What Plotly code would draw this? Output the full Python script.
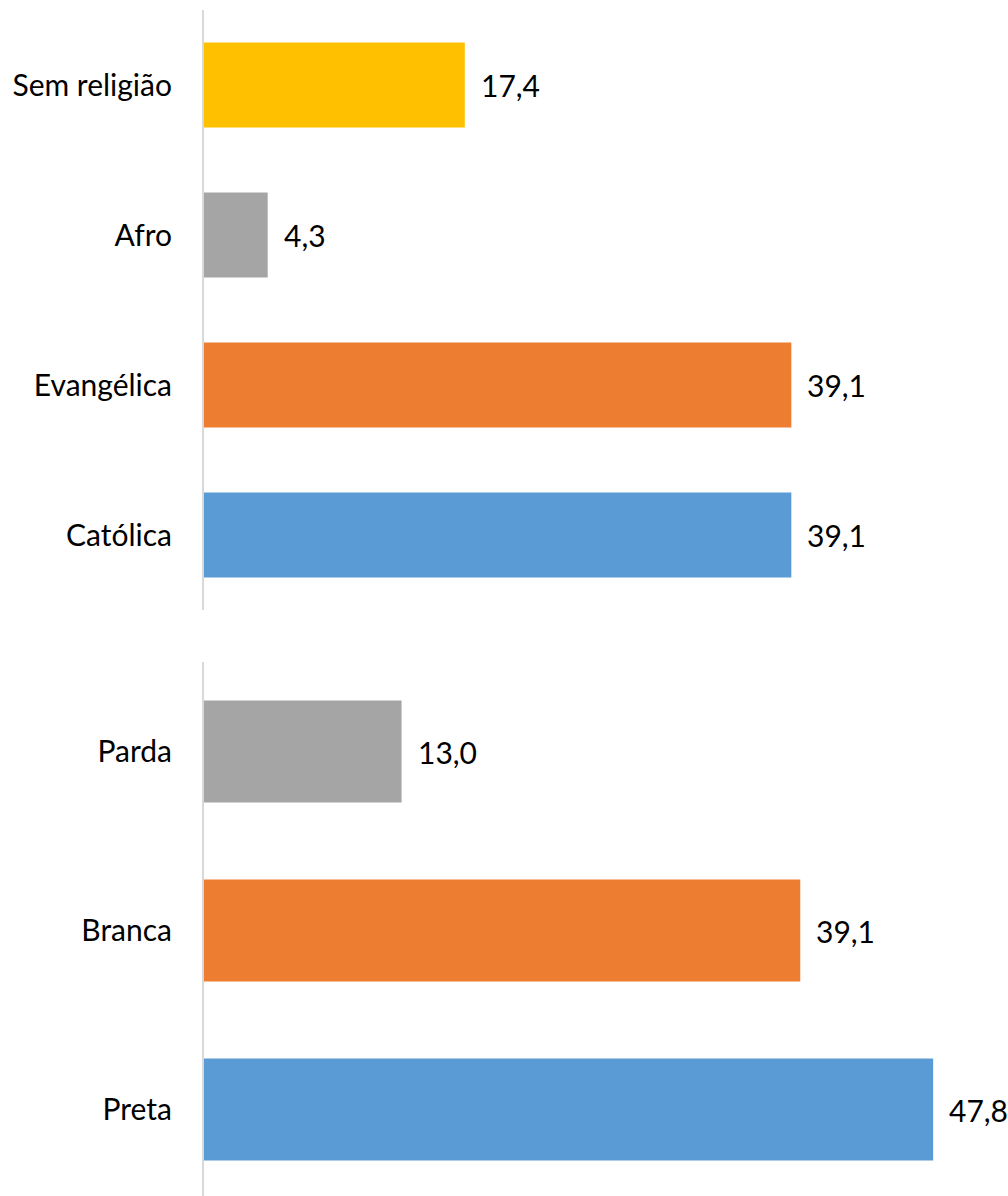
import plotly.graph_objects as go

W, H = 1008, 1196

# Top chart: religion
rel_categories = ["Católica", "Evangélica", "Afro", "Sem religião"]
rel_values = [39.1, 39.1, 4.3, 17.4]
rel_labels = ["39,1", "39,1", "4,3", "17,4"]
rel_colors = ["#5B9BD5", "#ED7D31", "#A5A5A5", "#FFC000"]

# Bottom chart: race
race_categories = ["Preta", "Branca", "Parda"]
race_values = [47.8, 39.1, 13.0]
race_labels = ["47,8", "39,1", "13,0"]
race_colors = ["#5B9BD5", "#ED7D31", "#A5A5A5"]

FONT = "Lato"
FS = 30

fig = go.Figure()
fig.add_trace(go.Bar(
    x=rel_values, y=list(range(len(rel_categories))), orientation="h",
    marker=dict(color=rel_colors, line=dict(width=0)), width=0.567,
    xaxis="x", yaxis="y", hoverinfo="skip", showlegend=False))
fig.add_trace(go.Bar(
    x=race_values, y=list(range(len(race_categories))), orientation="h",
    marker=dict(color=race_colors, line=dict(width=0)), width=0.57,
    xaxis="x2", yaxis="y2", hoverinfo="skip", showlegend=False))

ann = []
for i, (v, t) in enumerate(zip(rel_values, rel_labels)):
    ann.append(dict(x=v, y=i, xref="x", yref="y", text=t, showarrow=False,
                    xanchor="left", xshift=14, font=dict(family=FONT, size=FS, color="#000")))
for i, (v, t) in enumerate(zip(race_values, race_labels)):
    ann.append(dict(x=v, y=i, xref="x2", yref="y2", text=t, showarrow=False,
                    xanchor="left", xshift=14, font=dict(family=FONT, size=FS, color="#000")))

x0 = 203 / W
top_dom = [1 - 610 / H, 1 - 10 / H]
bot_dom = [0, 1 - 662 / H]

common_y = dict(showgrid=False, zeroline=False, ticks="", showline=False,
                tickfont=dict(family=FONT, size=FS, color="#000"), ticklabelstandoff=30)
fig.update_layout(
    width=W, height=H,
    margin=dict(l=0, r=0, t=0, b=0),
    paper_bgcolor="white", plot_bgcolor="white",
    font=dict(family=FONT, size=FS, color="#000"),
    xaxis=dict(domain=[x0, 1], range=[0, 53.5], visible=False, fixedrange=True),
    yaxis=dict(domain=top_dom, range=[-0.5, 3.5], anchor="x",
               tickvals=list(range(len(rel_categories))), ticktext=rel_categories, **common_y),
    xaxis2=dict(domain=[x0, 1], range=[0, 52.7], visible=False, anchor="y2", fixedrange=True),
    yaxis2=dict(domain=bot_dom, range=[-0.483, 2.5], anchor="x2",
                tickvals=list(range(len(race_categories))), ticktext=race_categories, **common_y),
    annotations=ann,
    shapes=[
        dict(type="line", xref="paper", yref="paper", x0=x0, x1=x0,
             y0=top_dom[0], y1=top_dom[1], line=dict(color="#D9D9D9", width=2)),
        dict(type="line", xref="paper", yref="paper", x0=x0, x1=x0,
             y0=bot_dom[0], y1=bot_dom[1], line=dict(color="#D9D9D9", width=2)),
    ],
)

fig.write_html("out.html", config={"displayModeBar": False},
               post_script="document.body.style.margin='0';document.body.style.overflow='hidden';")
